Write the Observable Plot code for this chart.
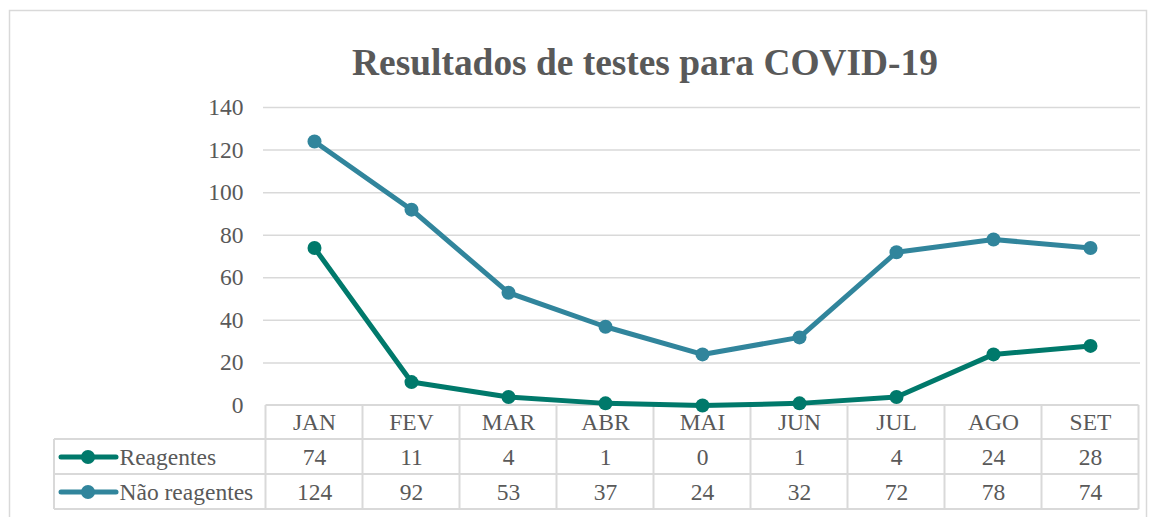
<!DOCTYPE html>
<html><head><meta charset="utf-8">
<script src="https://cdn.jsdelivr.net/npm/d3@7"></script>
<script src="https://cdn.jsdelivr.net/npm/@observablehq/plot@0.6"></script>
<style>
body{margin:0;background:#fff;}
#chart{position:relative;width:1155px;height:517px;overflow:hidden;}
</style></head><body><div id="chart"></div>
<script>
const months = ["JAN","FEV","MAR","ABR","MAI","JUN","JUL","AGO","SET"];
const reagentes = [74,11,4,1,0,1,4,24,28];
const naoReagentes = [124,92,53,37,24,32,72,78,74];
const seriesNames = ["Reagentes","Não reagentes"];
const seriesColors = ["#00796b","#31859c"];
const yTicks = [0,20,40,60,80,100,120,140];
const title = "Resultados de testes para COVID-19";

const seriesValues = [reagentes, naoReagentes];
const rows = [];
seriesNames.forEach((s, si) => months.forEach((m, i) => rows.push({month: m, series: s, value: seriesValues[si][i], row: si})));

const font = "'Liberation Serif','Times New Roman',serif";
const gridColor = "#d9d9d9";
const textColor = "#595959";
const fs = 23.5;
const headerDy = 17;
const rowDy = [52, 87];
const lineW = 5;
const dotR = 7;

const plot = Plot.plot({
  width: 1155, height: 517,
  marginLeft: 263, marginRight: 15, marginTop: 107, marginBottom: 112,
  style: {fontFamily: font, background: "#fff", color: textColor, overflow: "visible"},
  x: {type: "point", domain: months, padding: 0.5, axis: null},
  y: {domain: [0, 140], axis: null},
  color: {domain: seriesNames, range: seriesColors},
  marks: [
    Plot.gridY(yTicks.slice(1), {stroke: gridColor, strokeOpacity: 1, strokeWidth: 1.5}),
    Plot.axisY(yTicks, {tickSize: 0, tickPadding: 20, fontSize: fs, fill: textColor, tickFormat: d => d, label: null}),
    Plot.line(rows, {x: "month", y: "value", stroke: "series", z: "series", strokeWidth: lineW}),
    Plot.dot(rows, {x: "month", y: "value", fill: "series", r: dotR}),
    Plot.text(months, {x: d => d, text: d => d, frameAnchor: "bottom", lineAnchor: "middle", dy: headerDy, fontSize: fs, fill: textColor}),
    Plot.text(rows.filter(d => d.row === 0), {x: "month", text: "value", frameAnchor: "bottom", lineAnchor: "middle", dy: rowDy[0], fontSize: fs, fill: textColor}),
    Plot.text(rows.filter(d => d.row === 1), {x: "month", text: "value", frameAnchor: "bottom", lineAnchor: "middle", dy: rowDy[1], fontSize: fs, fill: textColor}),
    Plot.text([seriesNames[0]], {text: d => d, frameAnchor: "bottom-left", lineAnchor: "middle", dx: -144, dy: rowDy[0], textAnchor: "start", fontSize: fs, fill: textColor}),
    Plot.text([seriesNames[1]], {text: d => d, frameAnchor: "bottom-left", lineAnchor: "middle", dx: -144, dy: rowDy[1], textAnchor: "start", fontSize: fs, fill: textColor})
  ]
});

document.getElementById("chart").appendChild(plot);
const svg = d3.select(plot);
const xs = plot.scale("x");
const ys = plot.scale("y");
const step = xs.apply(months[1]) - xs.apply(months[0]);
const left = xs.apply(months[0]) - step / 2;
const right = xs.apply(months[months.length - 1]) + step / 2;
const y0 = ys.apply(0);
const rowLines = [y0, y0 + 34, y0 + 69, y0 + 104];
const labelLeft = 54;

const g = svg.insert("g", ":first-child").attr("stroke", gridColor).attr("stroke-width", 2).attr("fill", "none");
g.append("line").attr("x1", left).attr("x2", right).attr("y1", rowLines[0]).attr("y2", rowLines[0]);
rowLines.slice(1).forEach(y => g.append("line").attr("x1", labelLeft).attr("x2", right).attr("y1", y).attr("y2", y));
for (let k = 0; k <= months.length; k++) {
  const x = left + k * step;
  g.append("line").attr("x1", x).attr("x2", x).attr("y1", rowLines[0]).attr("y2", rowLines[3]);
}
g.append("line").attr("x1", labelLeft).attr("x2", labelLeft).attr("y1", rowLines[1]).attr("y2", rowLines[3]);

// legend keys
seriesNames.forEach((s, i) => {
  const y = y0 + rowDy[i];
  svg.append("line").attr("x1", 61).attr("x2", 116).attr("y1", y).attr("y2", y)
    .attr("stroke", seriesColors[i]).attr("stroke-width", lineW).attr("stroke-linecap", "round");
  svg.append("circle").attr("cx", 88).attr("cy", y).attr("r", dotR).attr("fill", seriesColors[i]);
});

// outer border
svg.append("rect").attr("x", 9.5).attr("y", 10.5).attr("width", 1137).attr("height", 540)
  .attr("fill", "none").attr("stroke", gridColor).attr("stroke-width", 1.5);

// title
svg.append("text").attr("x", 645).attr("y", 75).attr("text-anchor", "middle")
  .attr("font-family", font).attr("font-size", 37.4).attr("font-weight", "bold").attr("fill", textColor)
  .text(title);
</script></body></html>
